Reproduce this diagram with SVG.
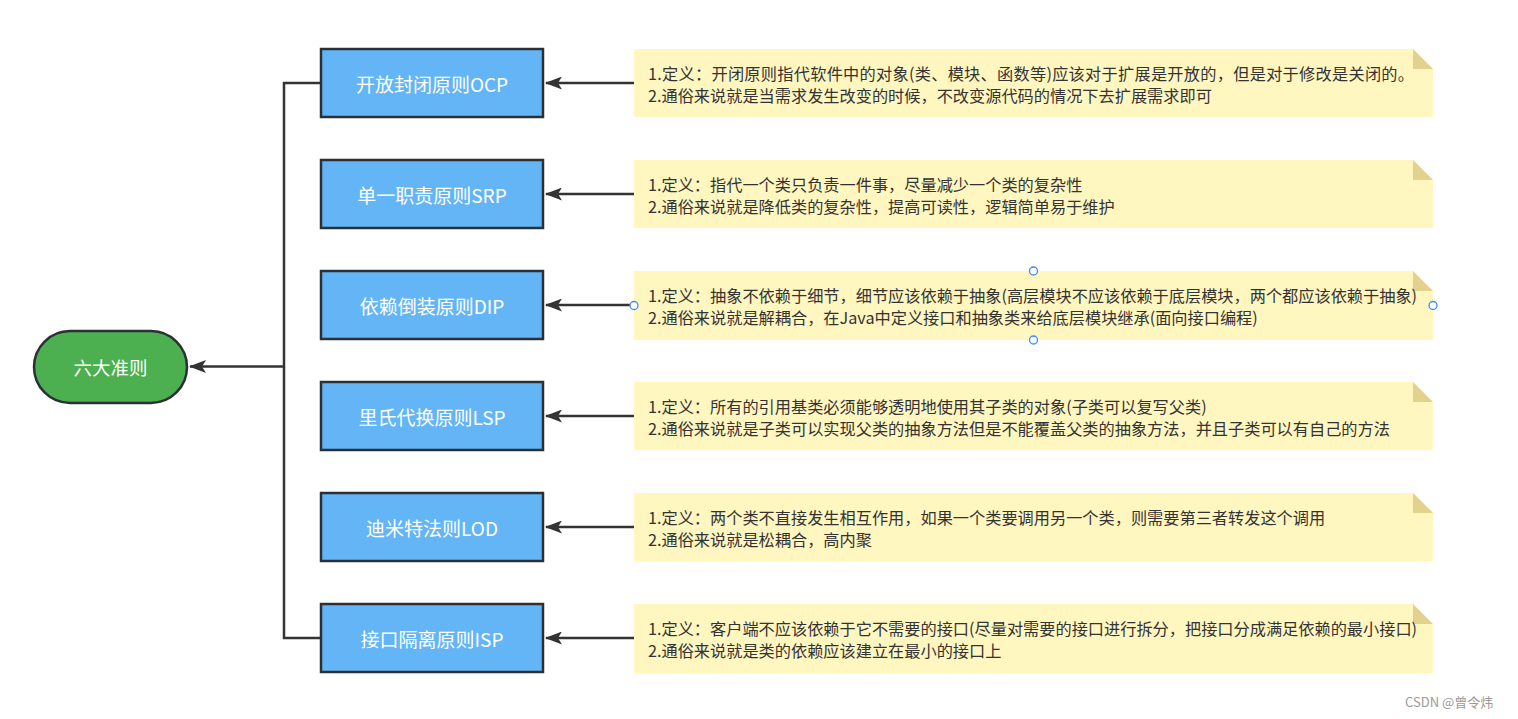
<svg xmlns="http://www.w3.org/2000/svg" width="1518" height="719" viewBox="0 0 1518 719">
<style>
.box{fill:#64b5f6;stroke:#2b3036;stroke-width:2.5}
.term{fill:#4caf50;stroke:#2b3036;stroke-width:2.5}
.lbl{font-family:"Noto Sans CJK SC","Noto Sans",sans-serif;font-size:19px;fill:#ffffff;text-anchor:middle;dominant-baseline:central}
.note{fill:#fff6c0}
.fold{fill:#e3d28e}
.nt{font-family:"Noto Sans CJK SC","Noto Sans",sans-serif;font-size:16.2px;fill:#333333;dominant-baseline:central}
.edge{fill:none;stroke:#333333;stroke-width:2.5}
.h{fill:#ffffff;stroke:#3b8cf0;stroke-width:1.3}
.wm{font-family:"Noto Sans CJK SC","Noto Sans",sans-serif;font-size:13px;fill:#9a9a9a}
</style>
<defs>
<marker id="arr" viewBox="0 0 17 13" refX="16" refY="6.5" markerWidth="17" markerHeight="13" markerUnits="userSpaceOnUse" orient="auto">
<path d="M0,0 L17,6.5 L0,13 L4,6.5 Z" fill="#333333"/>
</marker>
</defs>
<rect width="1518" height="719" fill="#ffffff"/>
<g id="connectors">
<path class="edge" d="M321,83 H284 V638 H321"/>
<path class="edge" d="M284,366.5 H190" marker-end="url(#arr)"/>
<path class="edge" d="M634,83 H546" marker-end="url(#arr)"/>
<path class="edge" d="M634,194 H546" marker-end="url(#arr)"/>
<path class="edge" d="M634,305 H546" marker-end="url(#arr)"/>
<path class="edge" d="M634,416 H546" marker-end="url(#arr)"/>
<path class="edge" d="M634,527 H546" marker-end="url(#arr)"/>
<path class="edge" d="M634,638 H546" marker-end="url(#arr)"/>
</g>
<g id="root">
<rect class="term" x="34" y="331" width="153" height="72" rx="36" ry="36"/>
<text class="lbl" x="110.5" y="367" style="font-size:18.5px">六大准则</text>
</g>
<g id="ocp"><rect class="box" x="321" y="49" width="222" height="68"/><text class="lbl" x="432" y="83">开放封闭原则OCP</text></g>
<g id="srp"><rect class="box" x="321" y="160" width="222" height="68"/><text class="lbl" x="432" y="194">单一职责原则SRP</text></g>
<g id="dip"><rect class="box" x="321" y="271" width="222" height="68"/><text class="lbl" x="432" y="305">依赖倒装原则DIP</text></g>
<g id="lsp"><rect class="box" x="321" y="382" width="222" height="68"/><text class="lbl" x="432" y="416">里氏代换原则LSP</text></g>
<g id="lod"><rect class="box" x="321" y="493" width="222" height="68"/><text class="lbl" x="432" y="527">迪米特法则LOD</text></g>
<g id="isp"><rect class="box" x="321" y="604" width="222" height="68"/><text class="lbl" x="432" y="638">接口隔离原则ISP</text></g>
<g id="note-ocp">
<path class="note" d="M634,49 H1413 L1433,69 V117 H634 Z"/><path class="fold" d="M1413,49 L1433,69 H1413 Z"/>
<text class="nt" x="648" y="73" textLength="766" lengthAdjust="spacing">1.定义：开闭原则指代软件中的对象(类、模块、函数等)应该对于扩展是开放的，但是对于修改是关闭的。</text>
<text class="nt" x="648" y="95">2.通俗来说就是当需求发生改变的时候，不改变源代码的情况下去扩展需求即可</text>
</g>
<g id="note-srp">
<path class="note" d="M634,160 H1413 L1433,180 V228 H634 Z"/><path class="fold" d="M1413,160 L1433,180 H1413 Z"/>
<text class="nt" x="648" y="184">1.定义：指代一个类只负责一件事，尽量减少一个类的复杂性</text>
<text class="nt" x="648" y="206">2.通俗来说就是降低类的复杂性，提高可读性，逻辑简单易于维护</text>
</g>
<g id="note-dip">
<path class="note" d="M634,271 H1413 L1433,291 V340 H634 Z"/><path class="fold" d="M1413,271 L1433,291 H1413 Z"/>
<text class="nt" x="648" y="295">1.定义：抽象不依赖于细节，细节应该依赖于抽象(高层模块不应该依赖于底层模块，两个都应该依赖于抽象)</text>
<text class="nt" x="648" y="317">2.通俗来说就是解耦合，在Java中定义接口和抽象类来给底层模块继承(面向接口编程)</text>
<circle class="h" cx="1033.5" cy="271" r="4"/>
<circle class="h" cx="634" cy="305.5" r="4"/>
<circle class="h" cx="1433" cy="305.5" r="4"/>
<circle class="h" cx="1033.5" cy="340" r="4"/>
</g>
<g id="note-lsp">
<path class="note" d="M634,382 H1413 L1433,402 V450 H634 Z"/><path class="fold" d="M1413,382 L1433,402 H1413 Z"/>
<text class="nt" x="648" y="406">1.定义：所有的引用基类必须能够透明地使用其子类的对象(子类可以复写父类)</text>
<text class="nt" x="648" y="428">2.通俗来说就是子类可以实现父类的抽象方法但是不能覆盖父类的抽象方法，并且子类可以有自己的方法</text>
</g>
<g id="note-lod">
<path class="note" d="M634,493 H1413 L1433,513 V561 H634 Z"/><path class="fold" d="M1413,493 L1433,513 H1413 Z"/>
<text class="nt" x="648" y="517">1.定义：两个类不直接发生相互作用，如果一个类要调用另一个类，则需要第三者转发这个调用</text>
<text class="nt" x="648" y="539">2.通俗来说就是松耦合，高内聚</text>
</g>
<g id="note-isp">
<path class="note" d="M634,604 H1413 L1433,624 V673 H634 Z"/><path class="fold" d="M1413,604 L1433,624 H1413 Z"/>
<text class="nt" x="648" y="628">1.定义：客户端不应该依赖于它不需要的接口(尽量对需要的接口进行拆分，把接口分成满足依赖的最小接口)</text>
<text class="nt" x="648" y="650">2.通俗来说就是类的依赖应该建立在最小的接口上</text>
</g>
<text class="wm" x="1405" y="707">CSDN @曾令炜</text>
</svg>
